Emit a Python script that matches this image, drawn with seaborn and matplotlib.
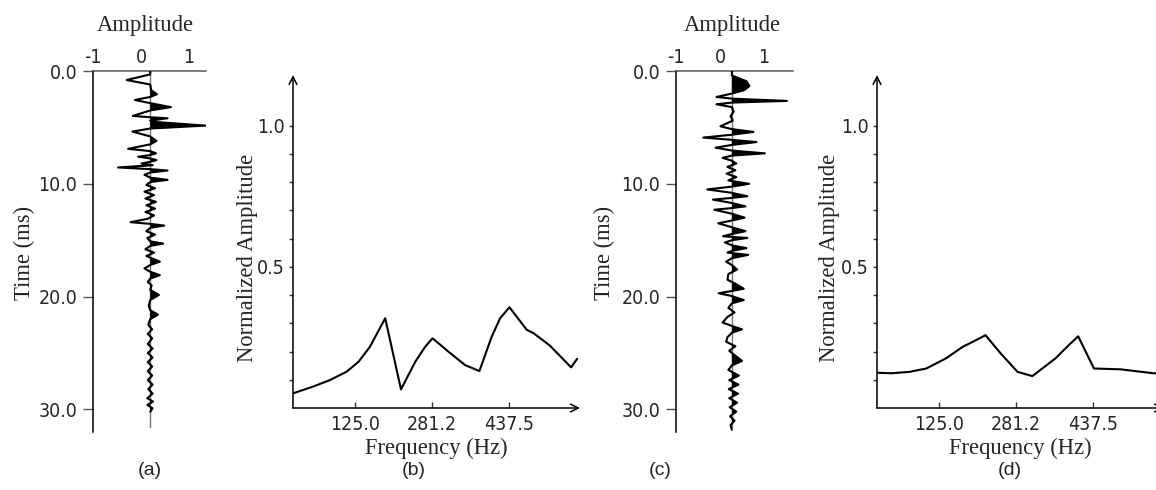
import numpy as np
import pandas as pd
import matplotlib
matplotlib.use("Agg")
import matplotlib.pyplot as plt
import seaborn as sns

# ---- data ----
# trace (a): time (ms) and amplitude around the trace baseline
time_a = [0.0, 0.3, 0.8, 1.2, 1.7, 2.06, 2.3, 2.57, 2.85, 3.2, 3.5, 3.98, 4.1, 4.19, 4.4,
          4.5, 4.84, 5.1, 5.37, 5.8, 6.2, 6.5, 6.9, 7.1, 7.3, 7.45, 7.6, 7.75, 7.9, 8.05,
          8.2, 8.35, 8.55, 8.7, 8.82, 9.0, 9.2, 9.45, 9.65, 9.85, 10.1, 10.4, 10.7, 11.0,
          11.3, 11.6, 11.9, 12.2, 12.5, 12.8, 13.1, 13.4, 13.55, 13.7, 13.9, 14.2, 14.5,
          14.8, 15.1, 15.3, 15.5, 15.8, 16.1, 16.4, 16.9, 17.2, 17.5, 17.8, 18.1, 18.4,
          18.7, 19.0, 19.4, 19.85, 20.3, 20.8, 21.2, 21.6, 22.0, 22.5, 22.9, 23.3, 23.7,
          24.2, 24.6, 25.0, 25.4, 25.8, 26.2, 26.6, 27.0, 27.4, 27.8, 28.2, 28.6, 29.0,
          29.3, 29.6, 29.9, 30.2]
amp_a = [0.0, 0.0, -0.49, 0.0, 0.02, 0.14, 0.0, -0.32, 0.0, 0.43, 0.0, -0.36, 0.0, 0.36, 0.0,
         0.05, 1.15, 0.0, -0.37, 0.0, 0.13, 0.0, -0.46, 0.0, 0.12, 0.0, -0.25, 0.0, 0.13, 0.0,
         -0.18, 0.05, -0.67, 0.0, 0.36, 0.0, -0.12, 0.0, 0.36, 0.0, -0.08, 0.1, -0.12, 0.08,
         -0.1, 0.12, -0.08, 0.1, -0.1, 0.08, -0.05, -0.41, 0.0, 0.29, 0.0, -0.08, 0.1,
         -0.06, 0.0, 0.27, 0.0, -0.1, 0.08, -0.08, 0.2, 0.0, -0.12, 0.0, 0.2, 0.0,
         -0.05, 0.03, 0.0, 0.18, 0.0, -0.03, 0.0, 0.16, 0.0, -0.04, 0.04, -0.05, 0.04,
         -0.05, 0.05, -0.05, 0.05, -0.05, 0.04, -0.05, 0.04, -0.05, 0.05, -0.04, 0.05, -0.06,
         0.06, -0.06, 0.05, 0.0]

# trace (c)
time_c = [0.0, 0.4, 0.9, 1.33, 1.7, 2.0, 2.3, 2.45, 2.65, 2.8, 2.95, 3.2, 3.6, 4.0, 4.4,
          4.9, 5.15, 5.4, 5.65, 5.9, 6.1, 6.3, 6.55, 6.8, 7.05, 7.3, 7.5, 7.7, 7.95, 8.2,
          8.5, 8.8, 9.1, 9.4, 9.7, 10.0, 10.25, 10.5, 10.8, 11.1, 11.25, 11.4, 11.7, 12.0,
          12.15, 12.3, 12.65, 13.0, 13.25, 13.5, 13.85, 14.2, 14.45, 14.65, 14.8, 15.0,
          15.2, 15.45, 15.7, 15.95, 16.1, 16.3, 16.6, 16.9, 17.2, 17.6, 18.0, 18.5, 18.9,
          19.3, 19.5, 19.7, 19.95, 20.3, 20.6, 21.0, 21.4, 21.8, 22.3, 22.6, 22.9, 23.2,
          23.6, 24.0, 24.4, 24.8, 25.3, 25.7, 26.1, 26.5, 27.0, 27.4, 27.8, 28.2, 28.6,
          29.0, 29.4, 29.8, 30.2, 30.6, 31.0, 31.4, 31.8]
amp_c = [0.0, 0.0, 0.33, 0.4, 0.28, 0.0, -0.35, 0.0, 1.25, 0.0, -0.35, 0.0, 0.04, -0.03, 0.02,
         -0.26, 0.0, 0.49, 0.0, -0.65, 0.0, 0.56, 0.0, -0.37, 0.0, 0.75, 0.0, -0.21, 0.0, 0.1,
         -0.1, 0.08, -0.12, 0.1, -0.08, 0.39, 0.0, -0.56, 0.0, 0.35, 0.0, -0.43, 0.0, 0.31,
         0.0, -0.4, 0.0, 0.29, 0.0, -0.31, 0.0, 0.31, 0.0, -0.2, 0.35, 0.0,
         -0.16, 0.0, 0.33, 0.0, -0.1, 0.37, 0.0, -0.13, 0.0, 0.12, -0.08, -0.1, 0.1,
         0.27, 0.0, -0.3, 0.0, 0.27, 0.0, -0.08, 0.06, -0.1, -0.21, 0.0, 0.23, 0.0,
         -0.1, -0.13, 0.08, -0.06, 0.1, 0.23, 0.0, -0.08, 0.16, -0.06, 0.15, -0.07, 0.14,
         -0.06, 0.12, -0.05, 0.1, -0.04, 0.06, -0.03, 0.0]

# spectrum (b)
freq_b = [0, 41, 75, 109, 133, 156, 187, 219, 248, 268, 283, 315, 349, 378, 403, 420, 439,
          474, 488, 521, 564, 576]
spec_b = [0.052, 0.076, 0.099, 0.129, 0.164, 0.217, 0.318, 0.066, 0.164, 0.217, 0.247, 0.2,
          0.152, 0.131, 0.253, 0.318, 0.357, 0.277, 0.265, 0.221, 0.144, 0.174]

# spectrum (d)
freq_d = [0, 29, 66, 100, 140, 174, 197, 220, 251, 285, 315, 362, 389, 408, 440, 494, 561, 600]
spec_d = [0.125, 0.123, 0.128, 0.14, 0.176, 0.217, 0.237, 0.258, 0.193, 0.128, 0.113, 0.176,
          0.223, 0.254, 0.14, 0.137, 0.123, 0.12]

time_ticks = [0.0, 10.0, 20.0, 30.0]
amp_ticks = [-1, 0, 1]
freq_ticks = [125.0, 281.25, 437.5]
freq_labels = ["125.0", "281.2", "437.5"]

sns.set_theme(style="white")
# condensed sans for the tick numbers, serif for the axis titles
plt.rcParams["font.family"] = ["Liberation Sans Narrow", "DejaVu Sans"]
plt.rcParams["font.stretch"] = "condensed"
serif = ["Liberation Serif", "DejaVu Serif"]
plt.rcParams["axes.linewidth"] = 1.1

W, H = 1156, 490
fig = plt.figure(figsize=(W / 100, H / 100), dpi=100)
TICK_FS = 14
LAB_FS = 16.3


def box(l, r, t, b):
    return [l / W, 1 - b / H, (r - l) / W, (b - t) / H]


def wiggle(ax, t, a, base, xmax, panel_x):
    t = np.asarray(t)
    a = np.asarray(a)
    x = base + a
    ax.plot([base, base], [0, 31.6], color="#777777", lw=1.0, zorder=1)
    ax.fill_betweenx(t, base, x, where=a > 0, interpolate=True, color="black", lw=0, zorder=2)
    sns.lineplot(x=x, y=t, orient="y", sort=False, estimator=None, color="black", lw=1.5, ax=ax,
                 zorder=3)
    ax.set_xlim(-1, xmax)
    ax.set_ylim(32, 0)
    ax.xaxis.tick_top()
    ax.set_xticks(amp_ticks)
    ax.set_xticklabels(["-1", "0", "1"])
    ax.set_yticks(time_ticks)
    ax.set_yticklabels([f"{v:.1f}" for v in time_ticks])
    ax.tick_params(axis="x", length=0, pad=3, labelsize=TICK_FS)
    ax.tick_params(axis="y", length=7.2, width=1.0, color="#555555", pad=4, labelsize=TICK_FS,
                   left=True)
    for s in ["right", "bottom"]:
        ax.spines[s].set_visible(False)
    ax.spines["top"].set_color("#555555")
    ax.spines["left"].set_color("black")
    ax.set_xlabel("")
    ax.set_ylabel("")
    fig.text(panel_x, 1 - 26 / H, "Amplitude", family=serif, fontsize=LAB_FS, ha="center",
             va="center")


def spectrum(ax, f, s, ylab_x):
    sns.lineplot(x=f, y=s, sort=False, estimator=None, color="black", lw=1.5, ax=ax)
    ax.set_xlim(0, 582)
    ax.set_ylim(0, 1.18)
    for sp in ax.spines.values():
        sp.set_visible(False)
    for end in [(0, 1), (1, 0)]:
        ax.annotate("", xy=end, xytext=(0, 0), xycoords="axes fraction",
                    arrowprops=dict(arrowstyle="->", lw=1.1, color="black", shrinkA=0,
                                    shrinkB=0, mutation_scale=14))
    ax.set_yticks([0.5, 1.0])
    ax.set_yticklabels(["0.5", "1.0"])
    ax.set_yticks([0.1, 0.2, 0.3, 0.4, 0.6, 0.7, 0.8, 0.9], minor=True)
    ax.tick_params(axis="y", which="both", direction="out", length=3, width=1.0, left=True,
                   color="#333333", pad=3, labelsize=TICK_FS)
    ax.set_xticks(freq_ticks)
    ax.set_xticklabels(freq_labels)
    ax.tick_params(axis="x", direction="in", length=4.5, width=1.0, bottom=True, color="#333333",
                   pad=5, labelsize=TICK_FS)
    ax.set_xlabel("Frequency (Hz)", family=serif, fontsize=LAB_FS, labelpad=2.5)
    ax.set_ylabel("")
    fig.text(ylab_x / W, 1 - 258 / H, "Normalized Amplitude", family=serif, fontsize=LAB_FS,
             rotation=90, ha="center", va="center")


ax_a = fig.add_axes(box(93, 206, 71, 432))
wiggle(ax_a, time_a, amp_a, 0.19, 1.35, 145 / W)
fig.text(24 / W, 1 - 253 / H, "Time (ms)", family=serif, fontsize=LAB_FS, rotation=90,
         ha="center", va="center")

ax_b = fig.add_axes(box(293, 580, 75, 408))
spectrum(ax_b, freq_b, spec_b, 247)

ax_c = fig.add_axes(box(676, 793, 71, 432))
wiggle(ax_c, time_c, amp_c, 0.27, 1.66, 732 / W)
fig.text(604 / W, 1 - 253 / H, "Time (ms)", family=serif, fontsize=LAB_FS, rotation=90,
         ha="center", va="center")

ax_d = fig.add_axes(box(877, 1164, 75, 408))
spectrum(ax_d, freq_d, spec_d, 830)

for lab, xp in [("(a)", 150), ("(b)", 414), ("(c)", 660), ("(d)", 1010)]:
    fig.text(xp / W, 1 - 470 / H, lab, family=["Liberation Sans", "DejaVu Sans"], fontsize=14,
             stretch="normal", ha="center", va="center")

fig.savefig("out.png", dpi=100)
